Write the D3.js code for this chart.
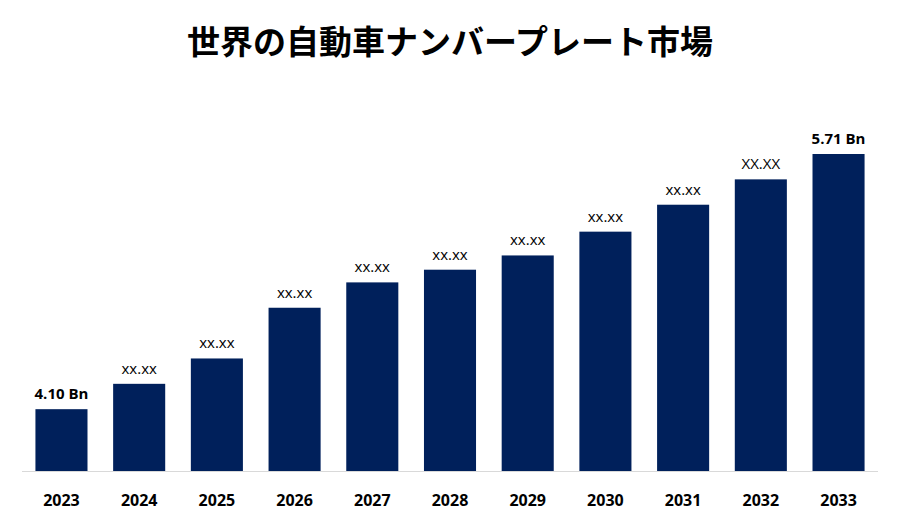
<!DOCTYPE html>
<html lang="ja">
<head>
<meta charset="utf-8">
<script src="https://cdn.jsdelivr.net/npm/d3@7"></script>
<style>
body { margin: 0; background: #fff; }
</style>
</head>
<body>
<script>
// data
var years = ["2023","2024","2025","2026","2027","2028","2029","2030","2031","2032","2033"];
var values = [4.10, 4.26, 4.42, 4.74, 4.90, 4.98, 5.07, 5.22, 5.39, 5.55, 5.71];
var labels = ["4.10 Bn","xx.xx","xx.xx","xx.xx","xx.xx","xx.xx","xx.xx","xx.xx","xx.xx","XX.XX","5.71 Bn"];

var w = 900, h = 525;
var svg = d3.select("body").append("svg").attr("width", w).attr("height", h);

svg.append("text")
  .attr("x", w / 2).attr("y", 54)
  .attr("text-anchor", "middle")
  .attr("font-family", "'Noto Sans CJK JP', sans-serif")
  .attr("font-weight", "bold").attr("font-size", "33px")
  .text("世界の自動車ナンバープレート市場");

var x = d3.scaleBand().domain(years).range([23, 877]).paddingInner(0.33).paddingOuter(0.16);
var y = d3.scaleLinear().domain([3.71, 5.71]).range([471, 154]);

svg.selectAll("rect.bar").data(values).enter().append("rect")
  .attr("class", "bar")
  .attr("x", function(d, i) { return x(years[i]); })
  .attr("y", function(d) { return y(d); })
  .attr("width", x.bandwidth())
  .attr("height", function(d) { return 471 - y(d); })
  .attr("fill", "#00205b");

svg.append("line").attr("x1", 22).attr("x2", 878).attr("y1", 471.5).attr("y2", 471.5)
  .attr("stroke", "#d9d9d9");

svg.selectAll("text.val").data(values).enter().append("text")
  .attr("class", "val")
  .attr("x", function(d, i) { return x(years[i]) + x.bandwidth() / 2; })
  .attr("y", function(d) { return y(d) - 10; })
  .attr("text-anchor", "middle")
  .attr("font-family", "'Open Sans', sans-serif")
  .attr("font-size", "15px")
  .attr("font-weight", function(d, i) { return labels[i].indexOf("Bn") > 0 ? "bold" : "normal"; })
  .text(function(d, i) { return labels[i]; });

svg.selectAll("text.year").data(years).enter().append("text")
  .attr("class", "year")
  .attr("x", function(d) { return x(d) + x.bandwidth() / 2; })
  .attr("y", 506)
  .attr("text-anchor", "middle")
  .attr("font-family", "'Open Sans', sans-serif")
  .attr("font-weight", "bold").attr("font-size", "16px")
  .text(function(d) { return d; });
</script>
</body>
</html>
